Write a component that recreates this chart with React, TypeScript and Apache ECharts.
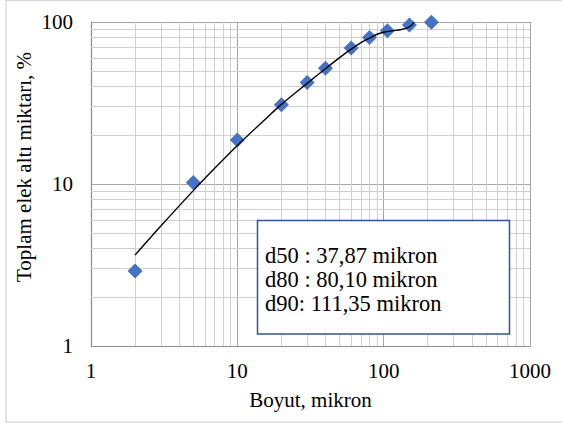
import React, { useEffect, useRef } from "react";
import * as echarts from "echarts";

// Measured particle sizes (micron) and cumulative passing (%)
const sizes = [2, 5, 10, 20, 30, 40, 60, 80, 106, 150, 212];
const passing = [2.9, 10.2, 18.7, 30.8, 42.3, 51.9, 69.1, 80.3, 88.4, 95.8, 99.6];

// Trend curve
const fitX = [2, 3, 5, 7, 10, 15, 20, 30, 40, 50, 60, 70, 80, 90, 100, 115, 130, 145, 155, 161];
const fitY = [3.64, 5.5, 9.1, 12.5, 17.3, 24.4, 31.0, 41.8, 51.5, 60.3, 68, 74.5, 79.5, 84, 86.5, 88.3, 89.5, 92, 95.5, 100];

// Minor grid values
const minorX = [2, 3, 4, 5, 6, 7, 8, 9, 20, 30, 40, 50, 60, 70, 80, 90, 200, 300, 400, 500, 600, 700, 800, 900];
const minorY = [2, 3, 4, 5, 6, 7, 8, 9, 20, 30, 40, 50, 60, 70, 80, 90];

const xTitle = "Boyut, mikron";
const yTitle = "Toplam elek altı miktarı, %";
const boxLines = ["d50 : 37,87 mikron", "d80 : 80,10 mikron", "d90: 111,35 mikron"];

const FONT = "Liberation Serif";

export default function App() {
  const ref = useRef<HTMLDivElement>(null);
  useEffect(() => {
    if (!ref.current) return;
    const chart = echarts.init(ref.current, undefined, { renderer: "svg" });
    const minorLine = { color: "#d0d0d0", width: 1, type: "solid" };
    const option: any = {
      animation: false,
      backgroundColor: "#ffffff",
      grid: { left: 91, top: 22, right: 32, bottom: 79, containLabel: false },
      xAxis: {
        type: "log",
        logBase: 10,
        min: 1,
        max: 1000,
        axisLine: { show: true, lineStyle: { color: "#8c8c8c", width: 1.2 } },
        axisTick: { show: false },
        axisLabel: {
          fontFamily: FONT,
          fontSize: 21,
          color: "#000",
          margin: 14,
          formatter: (v: number) => String(v),
        },
        splitLine: { show: true, lineStyle: { color: "#a6a6a6", width: 1 } },
        name: xTitle,
        nameLocation: "middle",
        nameGap: 43,
        nameTextStyle: { fontFamily: FONT, fontSize: 21, color: "#000" },
      },
      yAxis: {
        type: "log",
        logBase: 10,
        min: 1,
        max: 100,
        axisLine: { show: true, lineStyle: { color: "#8c8c8c", width: 1.2 } },
        axisTick: { show: false },
        axisLabel: {
          fontFamily: FONT,
          fontSize: 21,
          color: "#000",
          margin: 18,
          formatter: (v: number) => String(v),
        },
        splitLine: { show: true, lineStyle: { color: "#a6a6a6", width: 1 } },
      },
      graphic: [
        {
          type: "rect",
          z: 0,
          silent: true,
          shape: { x: 6, y: 0.5, width: 560, height: 421.5 },
          style: { fill: "none", stroke: "#d9d9d9", lineWidth: 1.5 },
        },
        {
          type: "text",
          x: 24,
          y: 167,
          rotation: Math.PI / 2,
          silent: true,
          style: {
            text: yTitle,
            fontFamily: FONT,
            fontSize: 21,
            fill: "#000",
            align: "center",
            verticalAlign: "middle",
          },
        },
        {
          type: "group",
          z: 100,
          children: [
            {
              type: "rect",
              z: 100,
              shape: { x: 257.5, y: 220.5, width: 252, height: 113.5 },
              style: { fill: "#ffffff", stroke: "#2f5597", lineWidth: 1.5 },
            },
            ...boxLines.map((t, i) => ({
              type: "text",
              z: 101,
              x: 265,
              y: 255 + i * 24.3,
              style: {
                text: t,
                fontFamily: FONT,
                fontSize: 22.5,
                fill: "#000",
                align: "left",
                verticalAlign: "middle",
              },
            })),
          ],
        },
      ],
      series: [
        {
          name: "grid",
          type: "line",
          data: [],
          z: 1,
          silent: true,
          markLine: {
            silent: true,
            z: 1,
            symbol: ["none", "none"],
            label: { show: false },
            lineStyle: minorLine,
            animation: false,
            data: [
              ...minorX.map((v) => ({ xAxis: v })),
              ...minorY.map((v) => ({ yAxis: v })),
            ],
          },
        },
        {
          name: "data",
          type: "scatter",
          symbol: "diamond",
          symbolSize: 15,
          z: 3,
          itemStyle: { color: "#4472c4", opacity: 1 },
          data: sizes.map((s, i) => [s, passing[i]]),
        },
        {
          name: "fit",
          type: "line",
          smooth: 0.3,
          showSymbol: false,
          symbol: "none",
          clip: false,
          z: 4,
          lineStyle: { color: "#000000", width: 1.4, type: "solid", opacity: 1 },
          data: fitX.map((x, i) => [x, fitY[i]]),
        },
      ],
    };
    chart.setOption(option);
    return () => chart.dispose();
  }, []);
  return (
    <div
      ref={ref}
      style={{ position: "fixed", left: 0, top: 0, width: 562, height: 425 }}
    />
  );
}
